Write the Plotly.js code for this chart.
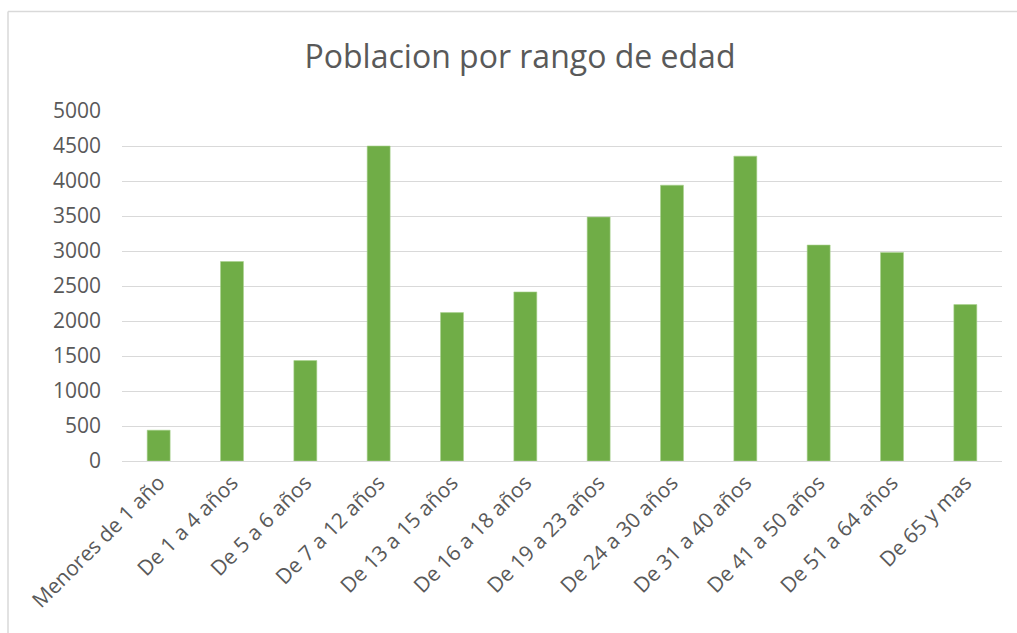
<!DOCTYPE html>
<html>
<head>
<meta charset="utf-8">
<script src="https://cdn.plot.ly/plotly-3.0.1.min.js"></script>
<style>html,body{margin:0;padding:0;background:#fff;}#chart{width:1017px;height:633px;}</style>
</head>
<body>
<div id="chart"></div>
<script>
const categories = ["Menores de 1 año","De 1 a 4 años","De 5 a 6 años","De 7 a 12 años","De 13 a 15 años","De 16 a 18 años","De 19 a 23 años","De 24 a 30 años","De 31 a 40 años","De 41 a 50 años","De 51 a 64 años","De 65 y mas"];
const poblacion = [440, 2850, 1435, 4500, 2120, 2415, 3485, 3940, 4355, 3085, 2980, 2235];
const yTicks = [0, 500, 1000, 1500, 2000, 2500, 3000, 3500, 4000, 4500, 5000];
const chartTitle = "Poblacion por rango de edad";

const W = 1017, H = 633;
const mL = 122, mR = 15, mT = 111, mB = 172;
const pw = W - mL - mR, ph = H - mT - mB;
function px(x){ return (x - mL) / pw; }
function py(y){ return (H - mB - y) / ph; }

const trace = {
  type: 'bar',
  x: categories,
  y: poblacion,
  marker: {color: '#70ad47', line: {color: '#a9d18e', width: 0.6}},
  hoverinfo: 'x+y'
};

const layout = {
  width: W, height: H,
  margin: {l: mL, r: mR, t: mT, b: mB},
  paper_bgcolor: '#ffffff',
  plot_bgcolor: '#ffffff',
  bargap: 0.687,
  showlegend: false,
  font: {family: '"Open Sans", sans-serif', color: '#595959'},
  title: {
    text: chartTitle,
    font: {family: '"Open Sans", sans-serif', size: 32, color: '#595959'},
    x: 520 / W, xref: 'container', xanchor: 'center',
    y: 1 - 57/H, yref: 'container', yanchor: 'middle'
  },
  xaxis: {
    type: 'category',
    tickangle: -45,
    tickfont: {size: 21, color: '#595959'},
    showgrid: false,
    showline: true, linecolor: '#d9d9d9', linewidth: 1,
    ticks: '', ticklen: 0,
    automargin: false,
    fixedrange: true
  },
  yaxis: {
    range: [0, 5000],
    tickvals: yTicks,
    ticktext: yTicks.map(String),
    tickfont: {size: 21, color: '#595959'},
    showgrid: true, gridcolor: '#d9d9d9', gridwidth: 1,
    zeroline: false,
    showline: false,
    ticks: '', ticklen: 0,
    ticklabelstandoff: 20,
    automargin: false,
    fixedrange: true
  },
  shapes: [
    {type: 'line', xref: 'paper', yref: 'paper', x0: px(8), x1: px(1017), y0: py(11.5), y1: py(11.5), line: {color: '#d9d9d9', width: 1.5}},
    {type: 'line', xref: 'paper', yref: 'paper', x0: px(8), x1: px(8), y0: py(11.5), y1: py(633), line: {color: '#d9d9d9', width: 1.5}}
  ]
};

Plotly.newPlot('chart', [trace], layout, {displayModeBar: false, staticPlot: true});
</script>
</body>
</html>
